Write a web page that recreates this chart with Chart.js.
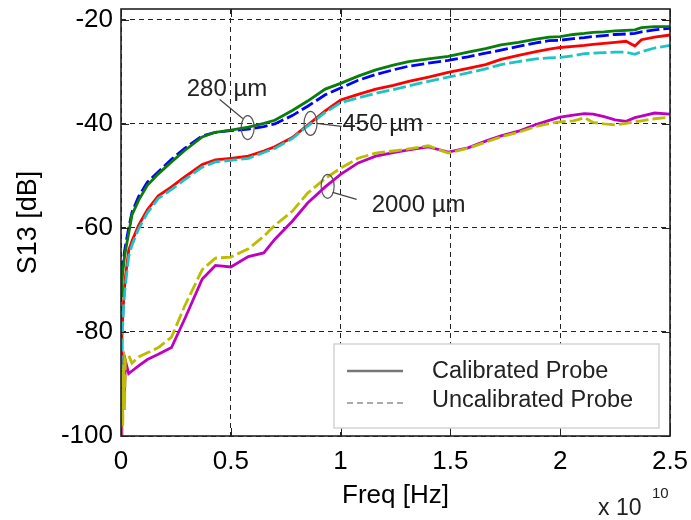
<!DOCTYPE html>
<html>
<head>
<meta charset="utf-8">
<script src="https://cdn.jsdelivr.net/npm/chart.js@4.4.1/dist/chart.umd.min.js"></script>
<style>
  body { margin: 0; background: #fff; }
  #wrap { width: 691px; height: 520px; }
</style>
</head>
<body>
<div id="wrap"><canvas id="s13Chart" width="691" height="520"></canvas></div>
<script>
// Frequency in units of 1e10 Hz (axis shows "x 10^10")
const freq = [0, 0.004, 0.008, 0.012, 0.016, 0.02, 0.035, 0.05, 0.08, 0.12, 0.17, 0.23, 0.29, 0.37, 0.43, 0.5,
  0.58, 0.65, 0.7, 0.78, 0.85, 0.93, 1.0, 1.08, 1.16, 1.24, 1.31, 1.4, 1.49, 1.58, 1.66, 1.73, 1.81, 1.89, 1.95, 2.0,
  2.06, 2.11, 2.15, 2.2, 2.25, 2.3, 2.34, 2.37, 2.43, 2.5];

// S13 in dB
const cal280 = [-73, -70.5, -68.5, -67, -65.5, -64.5, -61, -57.5, -54.7, -51.8, -49.6, -47.3, -45.1, -42.5, -41.6, -41.2,
  -40.6, -39.9, -39.3, -37.4, -35.6, -33.3, -32.2, -30.8, -29.6, -28.7, -28.0, -27.5, -27.0, -26.2, -25.5, -24.8, -24.3, -23.7, -23.3, -23.2,
  -22.8, -22.6, -22.4, -22.3, -22.1, -22.0, -21.9, -21.5, -21.3, -21.3];
const uncal280 = [-72, -69.5, -67.5, -66, -64.5, -63.5, -60, -57, -54, -51.2, -49.2, -46.8, -44.7, -42.3, -41.6, -41.3,
  -41.0, -40.5, -40.0, -38.4, -36.6, -34.4, -33.1, -31.6, -30.5, -29.6, -28.9, -28.3, -27.8, -27.1, -26.4, -25.8, -25.1, -24.4, -24.0, -23.9,
  -23.6, -23.4, -23.2, -23.0, -22.8, -22.7, -22.6, -22.3, -21.9, -21.6];
const cal450 = [-86, -81, -77, -74, -71.5, -69.5, -64.3, -62.5, -59.5, -56.5, -53.8, -52.1, -50.2, -47.8, -46.9, -46.6,
  -46.2, -45.2, -44.4, -42.6, -40.2, -37.5, -35.4, -34.3, -33.3, -32.6, -31.8, -31.0, -30.1, -29.3, -28.6, -27.6, -26.8, -26.1, -25.6, -25.3,
  -25.1, -24.9, -24.7, -24.5, -24.3, -24.1, -25.0, -23.8, -23.3, -22.9];
const uncal450 = [-87, -82.5, -78.5, -75, -72.5, -71, -65.5, -63.3, -60.2, -57.1, -54.3, -52.6, -50.7, -48.3, -47.3, -47.0,
  -46.6, -45.5, -44.7, -42.8, -40.4, -37.8, -35.9, -35.0, -34.1, -33.4, -32.7, -31.8, -31.0, -30.2, -29.4, -28.6, -28.0, -27.5, -27.3, -27.2,
  -26.9, -26.5, -26.4, -26.3, -26.2, -26.2, -26.6, -26.1, -25.4, -24.9];
const cal2000 = [-100, -86, -95, -87, -92, -85.5, -88, -87.5, -86.5, -85.3, -84.3, -83.0, -77.5, -69.8, -67.2, -67.5,
  -65.5, -64.8, -62.2, -58.7, -55.2, -52.1, -49.7, -47.5, -46.2, -45.5, -45.0, -44.4, -45.4, -44.6, -43.3, -42.3, -41.4, -40.1, -39.3, -38.7,
  -38.3, -38.0, -38.1, -38.6, -39.2, -39.5, -38.8, -38.5, -37.9, -38.1];
const uncal2000 = [-100, -81, -98, -84, -95, -85, -84.5, -86, -84.8, -84.0, -83.0, -81.0, -75.0, -68.0, -65.8, -65.6,
  -64.0, -61.6, -59.5, -56.8, -53.3, -50.5, -48.5, -46.6, -45.6, -45.2, -44.8, -44.2, -45.6, -44.7, -43.5, -42.5, -41.6, -40.5, -39.9, -39.6,
  -39.4, -38.8, -39.7, -40.0, -40.2, -39.9, -39.6, -39.4, -39.0, -38.7];

const legendLabels = ["Calibrated Probe", "Uncalibrated Probe"];
const FONT = "'Liberation Sans', Arial, sans-serif";

const toPoints = (ys) => freq.map((f, i) => ({ x: f, y: ys[i] }));

function series(values, color, dashed, order) {
  return {
    data: toPoints(values),
    borderColor: color,
    borderWidth: 2.8,
    borderDash: dashed ? [13, 4] : [],
    pointRadius: 0,
    tension: 0,
    fill: false,
    order: order,
  };
}

// probe-length callouts (ellipse centre in data units, offsets in px)
const callouts = [
  { text: "280 µm", f: 0.577, db: -40.7, tx: -61, ty: -32, line: [-28, -28, -5, -9] },
  { text: "450 µm", f: 0.863, db: -39.9, tx: 32, ty: 8, line: [6, 0, 31, 3] },
  { text: "2000 µm", f: 0.941, db: -52.0, tx: 44, ty: 26, line: [5, 6, 29, 13] },
];

const overlay = {
  id: "overlay",
  afterDraw(chart) {
    const c = chart.ctx;
    const ca = chart.chartArea;
    const xs = chart.scales.x;
    const ys = chart.scales.y;
    c.save();

    // inward tick marks on all four sides
    c.strokeStyle = "#222";
    c.lineWidth = 1;
    c.setLineDash([]);
    c.beginPath();
    xs.ticks.forEach((t) => {
      const px = Math.round(xs.getPixelForValue(t.value)) + 0.5;
      c.moveTo(px, ca.bottom); c.lineTo(px, ca.bottom - 8);
      c.moveTo(px, ca.top); c.lineTo(px, ca.top + 8);
    });
    ys.ticks.forEach((t) => {
      const py = Math.round(ys.getPixelForValue(t.value)) + 0.5;
      c.moveTo(ca.left, py); c.lineTo(ca.left + 8, py);
      c.moveTo(ca.right, py); c.lineTo(ca.right - 8, py);
    });
    c.stroke();

    // axes box
    c.lineWidth = 1.6;
    c.strokeStyle = "#222";
    c.strokeRect(ca.left, ca.top, ca.right - ca.left, ca.bottom - ca.top);

    // callouts
    c.font = "24px " + FONT;
    c.fillStyle = "#222";
    c.textBaseline = "alphabetic";
    callouts.forEach((n) => {
      const cx = xs.getPixelForValue(n.f);
      const cy = ys.getPixelForValue(n.db);
      c.strokeStyle = "#555";
      c.lineWidth = 1.2;
      c.beginPath();
      c.ellipse(cx, cy, 6.5, 12, 0, 0, Math.PI * 2);
      c.stroke();
      c.strokeStyle = "#444";
      c.beginPath();
      c.moveTo(cx + n.line[0], cy + n.line[1]);
      c.lineTo(cx + n.line[2], cy + n.line[3]);
      c.stroke();
      c.fillText(n.text, cx + n.tx, cy + n.ty);
    });

    // legend box
    const lx = ca.right - 336;
    const ly = ca.bottom - 92;
    c.fillStyle = "#fff";
    c.fillRect(lx, ly, 325, 84);
    c.strokeStyle = "#d4d4d4";
    c.lineWidth = 1.5;
    c.strokeRect(lx, ly, 325, 84);
    c.lineWidth = 2.6;
    c.strokeStyle = "#777";
    c.beginPath();
    c.moveTo(lx + 13, ly + 27); c.lineTo(lx + 69, ly + 27);
    c.stroke();
    c.strokeStyle = "#aaa";
    c.lineWidth = 2;
    c.setLineDash([6, 4]);
    c.beginPath();
    c.moveTo(lx + 13, ly + 59); c.lineTo(lx + 69, ly + 59);
    c.stroke();
    c.setLineDash([]);
    c.fillStyle = "#222";
    c.font = "23.5px " + FONT;
    c.textBaseline = "middle";
    c.fillText(legendLabels[0], lx + 98, ly + 28);
    c.fillText(legendLabels[1], lx + 98, ly + 57);

    // exponent label
    c.textBaseline = "alphabetic";
    c.font = "23px " + FONT;
    c.fillText("x 10", ca.right - 72, ca.bottom + 79);
    c.font = "15px " + FONT;
    c.fillText("10", ca.right - 18, ca.bottom + 62);
    c.restore();
  },
};

const ctx = document.getElementById("s13Chart").getContext("2d");
new Chart(ctx, {
  type: "line",
  data: {
    datasets: [
      series(cal280, "#0a7d0a", false, 0),
      series(uncal280, "#0000ff", true, 1),
      series(uncal450, "#1cc4c4", true, 2),
      series(cal450, "#ff0000", false, 3),
      series(uncal2000, "#bcbc00", true, 4),
      series(cal2000, "#c000c0", false, 5),
    ],
  },
  options: {
    responsive: false,
    animation: false,
    devicePixelRatio: 1,
    layout: { padding: { left: 0, top: 9, right: 21, bottom: 0 } },
    plugins: {
      legend: { display: false },
      tooltip: { enabled: false },
    },
    scales: {
      x: {
        type: "linear",
        min: 0,
        max: 2.5,
        ticks: {
          stepSize: 0.5,
          padding: 10,
          maxRotation: 0,
          color: "#000",
          font: { family: FONT, size: 26 },
          callback: (v) => String(v),
        },
        grid: { color: "#222", lineWidth: 1, drawTicks: false },
        border: { display: false, dash: [5, 4] },
        title: {
          display: true,
          text: "Freq [Hz]",
          color: "#000",
          font: { family: FONT, size: 26 },
          padding: { top: 0, bottom: 9 },
        },
        afterFit: (s) => {
          s.height = 84;
          s.paddingLeft = 0;
          s.paddingRight = 0;
        },
      },
      y: {
        min: -100,
        max: -17.9,
        ticks: {
          stepSize: 20,
          includeBounds: false,
          padding: 8,
          color: "#000",
          font: { family: FONT, size: 26 },
        },
        grid: { color: "#222", lineWidth: 1, drawTicks: false },
        border: { display: false, dash: [5, 4] },
        title: {
          display: true,
          text: "S13 [dB]",
          color: "#000",
          font: { family: FONT, size: 27 },
          padding: { top: 12, bottom: 0 },
        },
        afterFit: (s) => {
          s.width = 121;
          s.paddingTop = 0;
          s.paddingBottom = 0;
        },
      },
    },
  },
  plugins: [overlay],
});
</script>
</body>
</html>
